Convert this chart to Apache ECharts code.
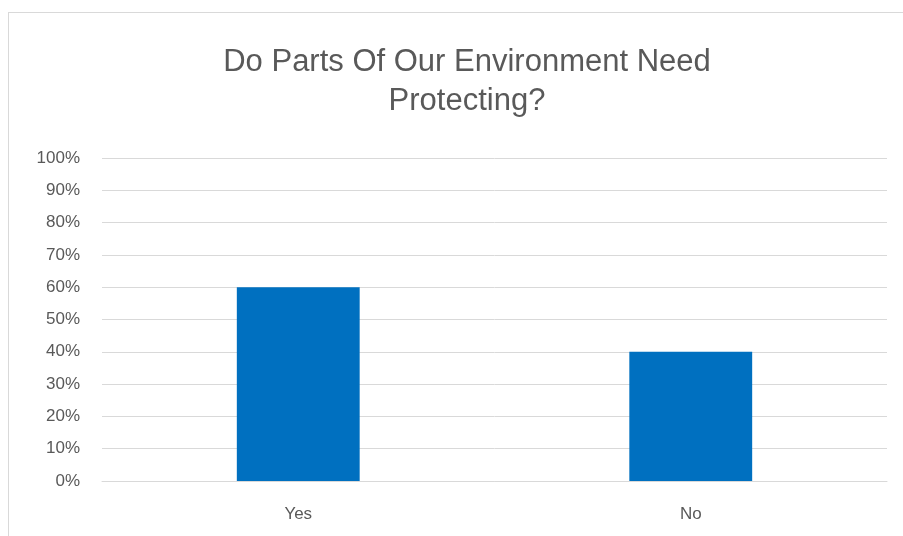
<!DOCTYPE html>
<html>
<head>
<meta charset="utf-8">
<script src="https://cdn.jsdelivr.net/npm/echarts@6/dist/echarts.min.js"></script>
<style>
html,body{margin:0;padding:0;background:#fff;}
#frame{position:absolute;left:8px;top:12px;width:900px;height:530px;border:1px solid #d9d9d9;box-sizing:border-box;}
#chart{position:absolute;left:0;top:0;width:903px;height:536px;}
</style>
</head>
<body>
<div id="frame"></div>
<div id="chart"></div>
<script>
const categories = ['Yes', 'No'];
const values = [0.60, 0.40];
const titleText = 'Do Parts Of Our Environment Need\nProtecting?';

const chart = echarts.init(document.getElementById('chart'));
chart.setOption({
  animation: false,
  title: {
    text: titleText,
    left: 462,
    textAlign: 'center',
    top: 38,
    textStyle: {
      fontFamily: 'Liberation Sans, sans-serif',
      fontWeight: 'normal',
      fontSize: 31,
      color: '#595959',
      lineHeight: 39
    }
  },
  grid: { left: 102, right: 16, top: 158, bottom: 55 },
  xAxis: {
    type: 'category',
    data: categories,
    axisLine: { show: true, lineStyle: { color: '#d9d9d9', width: 1 } },
    axisTick: { show: false },
    axisLabel: { color: '#595959', fontSize: 17, margin: 25, fontFamily: 'Liberation Sans, sans-serif' }
  },
  yAxis: {
    type: 'value',
    min: 0,
    max: 1,
    interval: 0.1,
    axisLine: { show: false },
    axisTick: { show: false },
    splitLine: { lineStyle: { color: '#d9d9d9', width: 1 } },
    axisLabel: {
      color: '#595959', fontSize: 17, margin: 22,
      fontFamily: 'Liberation Sans, sans-serif',
      formatter: v => Math.round(v * 100) + '%'
    }
  },
  series: [{
    type: 'bar',
    data: values,
    barWidth: '31.3%',
    itemStyle: { color: '#0070c0' }
  }]
});
</script>
</body>
</html>
